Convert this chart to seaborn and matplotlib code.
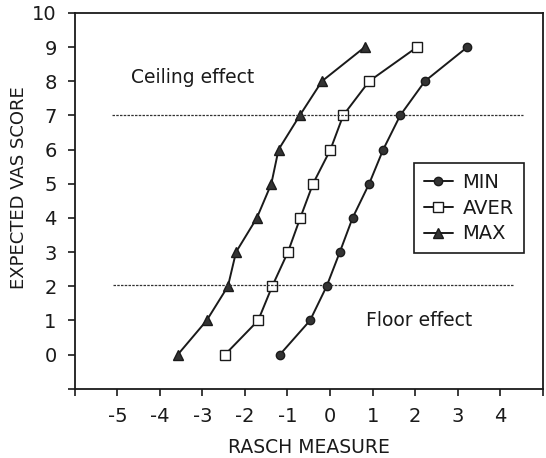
import matplotlib
matplotlib.use("Agg")
import matplotlib.pyplot as plt
import seaborn as sns
import pandas as pd

# expected VAS score levels (y) and Rasch measures (x)
vas_score = [0, 1, 2, 3, 4, 5, 6, 7, 8, 9]
rasch_min = [-1.18, -0.47, -0.08, 0.23, 0.53, 0.92, 1.25, 1.65, 2.23, 3.23]
rasch_aver = [-2.47, -1.69, -1.36, -0.99, -0.70, -0.40, 0.01, 0.31, 0.92, 2.05]
rasch_max = [-3.58, -2.90, -2.40, -2.21, -1.72, -1.38, -1.21, -0.71, -0.19, 0.82]

series_names = ["MIN", "AVER", "MAX"]
ceiling_y = 7
floor_y = 2.05

x_ticks = list(range(-6, 6))
x_labels = ["" if t in (-6, 5) else str(t) for t in x_ticks]
y_ticks = list(range(-1, 11))
y_labels = ["" if t == -1 else str(t) for t in y_ticks]

sns.set_style("ticks")
plt.rcParams["font.family"] = ["DejaVu Sans"]

ink = "#1a1a1a"

df = pd.DataFrame({
    "rasch": rasch_min + rasch_aver + rasch_max,
    "vas": vas_score * 3,
    "group": [n for n in series_names for _ in vas_score],
})

fig = plt.figure(figsize=(5.46, 4.58), dpi=100)
ax = fig.add_axes([0.137, 0.151, 0.857, 0.821])

styles = {
    "MIN": dict(marker="o", mfc="#333333", ms=6),
    "AVER": dict(marker="s", mfc="white", ms=6.5),
    "MAX": dict(marker="^", mfc="#333333", ms=7.5),
}
for name in series_names:
    sub = df[df["group"] == name]
    sns.lineplot(data=sub, x="rasch", y="vas", ax=ax, color=ink,
                 lw=1.4, mec=ink, mew=1.0, label=name,
                 sort=False, estimator=None, **styles[name])

ax.hlines(ceiling_y, -5.13, 4.54, colors="#333333", linestyles=(0, (2, 1)), lw=0.9)
ax.hlines(floor_y, -5.1, 4.33, colors="#333333", linestyles=(0, (2, 1)), lw=0.9)

ax.text(-4.67, 8.1, "Ceiling effect", fontsize=13.5, color=ink, va="center")
ax.text(0.85, 1.0, "Floor effect", fontsize=13.5, color=ink, va="center")

ax.set_xlim(-6, 5)
ax.set_ylim(-1, 10)
ax.set_xticks(x_ticks)
ax.set_xticklabels(x_labels)
ax.set_yticks(y_ticks)
ax.set_yticklabels(y_labels)
ax.tick_params(axis="both", labelsize=14, length=5, width=1.2, color=ink,
               labelcolor=ink, direction="out", pad=8)
for s in ax.spines.values():
    s.set_linewidth(1.3)
    s.set_color(ink)

ax.set_xlabel("RASCH MEASURE", fontsize=13.5, color=ink, labelpad=8.5)
ax.set_ylabel("EXPECTED VAS SCORE", fontsize=13, color=ink)
ax.yaxis.set_label_coords(-0.1, 0.535)

leg = ax.legend(loc="upper left", bbox_to_anchor=(414 / 546, 1 - 163 / 458),
                bbox_transform=fig.transFigure, borderaxespad=0, fancybox=False,
                framealpha=1, edgecolor=ink, fontsize=14, handlelength=1.5,
                handletextpad=0.5, labelspacing=0.35, borderpad=0.5)
leg.get_frame().set_linewidth(1.2)
for t in leg.get_texts():
    t.set_color(ink)

fig.savefig("out.png", dpi=100)
